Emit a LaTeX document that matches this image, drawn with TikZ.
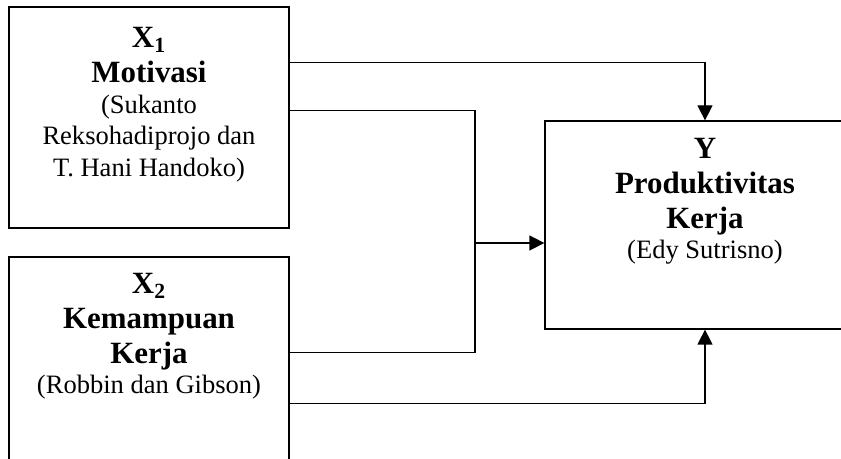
\documentclass[tikz,border=0pt]{standalone}
\usepackage{fontspec}
\setmainfont{Liberation Serif}
\usetikzlibrary{positioning,arrows.meta}

\newcommand{\judul}[1]{{\fontsize{17.6}{19.9}\selectfont\bfseries #1}}

\begin{document}
\begin{tikzpicture}[
    box/.style={draw,rectangle,inner sep=0pt,line width=0.7pt},
    lbl/.style={align=center,inner sep=0pt,font=\fontsize{15.1}{17.1}\selectfont},
    arr/.style={-{Triangle[length=0.3cm,width=0.3cm]}}
  ]

      \path[use as bounding box,clip] (0,0) rectangle (16.82,9.18);

      \begin{scope}[every node/.style={box,minimum width=5.6cm}]
        \node[minimum height=4.42cm] (x1) at (2.98,6.83) {};
        \node[minimum height=5.04cm] (x2) at (2.98,1.52) {};
      \end{scope}
      \node[box,minimum width=6.4cm,minimum height=4.16cm] (y) at (14.1,4.68) {};

      \node[lbl,below=0.42cm of x1.north] (x1txt)
        {\judul{X\textsubscript{1}}\\[2.8pt] \judul{Motivasi}\\ (Sukanto\\[1pt] Reksohadiprojo dan\\[1pt] T. Hani Handoko)};
      \node[lbl,below=0.34cm of x2.north] (x2txt)
        {\judul{X\textsubscript{2}}\\[2.8pt] \judul{Kemampuan}\\[2.8pt] \judul{Kerja}\\ (Robbin dan Gibson)};
      \node[lbl,below=0.36cm of y.north] (ytxt)
        {\judul{Y}\\[2.8pt] \judul{Produktivitas}\\[2.8pt] \judul{Kerja}\\ (Edy Sutrisno)};

      \coordinate (jn) at (9.5,4.32);

      \begin{scope}[line width=0.7pt]
        \draw[arr] ([yshift=-1.12cm]x1.north east) -| (y.north);
        \draw ([yshift=-2.08cm]x1.north east) -| (jn) |- ([yshift=-1.92cm]x2.north east);
        \draw[arr] (jn) -- (jn -| y.west);
        \draw[arr] ([yshift=-2.94cm]x2.north east) -| (y.south);
      \end{scope}

    \end{tikzpicture}
\end{document}
